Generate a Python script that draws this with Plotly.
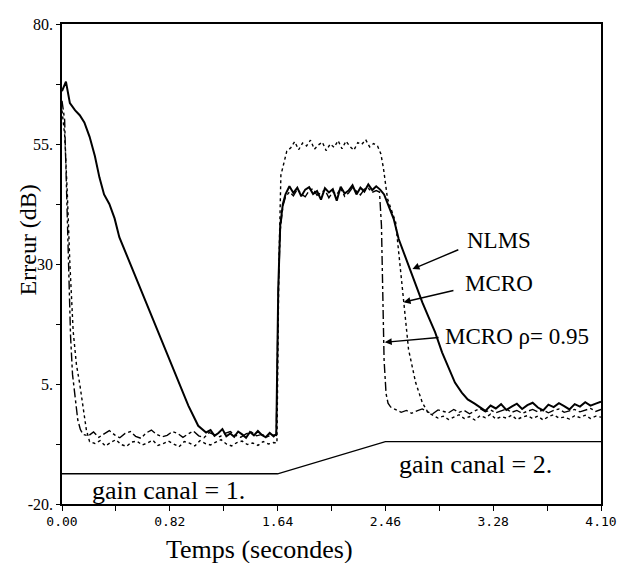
import plotly.graph_objects as go

# ---------------- data ----------------
nlms_t = [0.00,0.03,0.06,0.10,0.135,0.17,0.21,0.25,0.285,0.32,0.36,0.40,0.436,0.511,0.586,0.661,0.736,0.811,0.886,0.961,1.036,1.096,
          1.13,1.16,1.19,1.22,1.25,1.28,1.31,1.34,1.37,1.40,1.43,1.46,1.49,1.52,1.55,1.58,1.61,1.63,
          1.645,1.66,1.68,1.70,
          1.73,1.76,1.79,1.82,1.85,1.88,1.91,1.94,1.97,2.00,2.03,2.06,2.09,2.12,2.15,2.18,2.21,2.24,2.27,2.30,2.33,2.36,2.39,2.42,
          2.45,2.486,2.523,2.561,2.598,2.636,2.688,2.741,2.786,2.838,2.891,2.936,2.989,3.041,3.086,3.139,
          3.18,3.22,3.26,3.30,3.34,3.38,3.42,3.46,3.50,3.54,3.58,3.62,3.66,3.70,3.74,3.78,3.82,3.86,3.90,3.94,3.98,4.02,4.06,4.10]
nlms_y = [66.0,68.0,63.5,62.0,61.0,59.5,56.5,52.5,48.0,44.5,42.5,39.5,35.6,30.6,25.6,20.6,15.6,10.5,5.5,0.5,-3.7,-5.1,
          -4.6,-5.8,-5.2,-4.4,-5.9,-5.3,-6.0,-4.9,-5.5,-6.2,-5.0,-5.7,-4.8,-5.6,-6.1,-5.2,-5.9,-5.4,
          25.0,38.0,42.5,44.5,
          46.2,44.8,45.9,44.1,45.5,46.0,44.6,45.2,43.4,45.8,44.9,45.6,43.2,46.1,44.7,45.3,46.4,44.5,45.9,45.1,46.6,45.4,46.2,45.5,
          44.5,42.0,39.4,35.2,32.5,29.6,26.2,22.0,19.1,15.8,11.6,8.7,5.3,3.2,1.8,0.9,
          0.2,-0.6,0.5,-0.1,0.8,-0.4,0.3,0.9,-0.2,0.6,1.1,0.1,-0.5,0.7,0.2,1.0,0.4,-0.3,0.8,0.3,1.2,0.5,0.9,1.3]

mcro_t = [0.00,0.02,0.04,0.06,0.085,0.11,0.135,0.16,0.185,0.21,
          0.25,0.29,0.33,0.37,0.41,0.45,0.49,0.53,0.57,0.61,0.65,0.69,0.73,0.77,0.81,0.85,0.89,0.93,0.97,1.01,
          1.05,1.09,1.13,1.17,1.21,1.25,1.29,1.33,1.37,1.41,1.45,1.49,1.53,1.57,1.61,
          1.635,1.65,1.665,1.69,1.71,
          1.74,1.77,1.80,1.83,1.86,1.89,1.92,1.95,1.98,2.01,2.04,2.07,2.10,2.13,2.16,2.19,2.22,2.25,2.28,2.31,2.34,2.37,
          2.40,2.425,2.445,2.476,2.538,2.576,2.60,2.636,2.69,2.741,2.786,
          2.82,2.86,2.90,2.94,2.98,3.02,3.06,3.10,3.14,3.18,3.22,3.26,3.30,3.34,3.38,3.42,3.46,3.50,3.54,3.58,
          3.62,3.66,3.70,3.74,3.78,3.82,3.86,3.90,3.94,3.98,4.02,4.06,4.10]
mcro_y = [62.0,57.0,45.0,30.0,16.0,9.0,5.0,0.0,-4.5,-7.0,
          -7.4,-6.8,-7.9,-7.2,-6.6,-7.6,-8.0,-7.1,-6.9,-7.7,-7.3,-6.7,-7.8,-7.4,-6.9,-7.5,-8.1,-7.0,-7.3,-7.9,
          -6.8,-7.4,-7.7,-7.1,-6.6,-7.5,-7.9,-7.2,-6.9,-7.6,-7.3,-7.8,-7.0,-7.5,-7.2,
          -7.3,30.0,48.5,51.0,53.5,
          54.2,55.5,53.8,55.2,54.6,55.8,53.9,54.8,55.4,53.6,55.0,54.3,55.7,54.0,55.6,54.5,53.7,55.3,54.9,55.9,54.4,55.1,
          54.6,53.0,50.0,43.6,38.7,29.0,22.0,12.2,5.3,1.1,-1.0,
          -1.5,-2.1,-1.7,-2.4,-1.9,-1.4,-2.2,-1.8,-2.5,-1.6,-2.0,-1.3,-2.3,-1.8,-2.1,-1.5,-2.4,-1.9,-1.6,-2.2,
          -1.7,-2.5,-1.8,-1.4,-2.1,-1.9,-2.3,-1.6,-2.0,-1.5,-2.2,-1.7,-1.9]

rho_t = [0.00,0.02,0.035,0.05,0.065,0.08,0.10,0.12,0.14,0.16,
         0.20,0.24,0.28,0.32,0.36,0.40,0.44,0.48,0.52,0.56,0.60,0.64,0.68,0.72,0.76,0.80,0.84,0.88,0.92,0.96,
         1.00,1.04,1.08,1.12,1.16,1.20,1.24,1.28,1.32,1.36,1.40,1.44,1.48,1.52,1.56,1.60,
         1.63,1.645,1.66,1.68,1.70,
         1.73,1.76,1.79,1.82,1.85,1.88,1.91,1.94,1.97,2.00,2.03,2.06,2.09,2.12,2.15,2.18,2.21,2.24,2.27,2.30,2.33,2.36,2.39,
         2.415,2.43,2.44,2.45,2.465,2.48,2.50,
         2.54,2.58,2.62,2.66,2.70,2.74,2.78,2.82,2.86,2.90,2.94,2.98,3.02,3.06,3.10,3.14,3.18,3.22,3.26,3.30,
         3.34,3.38,3.42,3.46,3.50,3.54,3.58,3.62,3.66,3.70,3.74,3.78,3.82,3.86,3.90,3.94,3.98,4.02,4.06,4.10]
rho_y = [64.0,60.0,45.0,30.0,15.0,7.0,1.5,-2.5,-4.5,-5.5,
         -5.8,-5.0,-6.1,-5.4,-4.7,-5.6,-6.2,-5.3,-4.9,-5.9,-6.3,-5.2,-4.6,-5.5,-6.0,-5.7,-4.9,-5.3,-6.1,-5.4,
         -4.8,-5.8,-6.2,-5.1,-5.5,-6.0,-5.3,-4.9,-5.7,-6.1,-5.4,-5.0,-5.8,-5.5,-6.0,-5.6,
         -5.7,24.0,37.0,42.0,44.0,
         45.0,44.2,45.6,44.6,44.0,45.3,45.7,44.3,44.9,45.4,43.8,45.0,44.5,45.7,44.1,44.8,45.9,45.2,44.4,45.6,45.8,44.9,45.3,
         45.0,38.0,24.0,10.0,3.0,1.0,0.2,
         -0.3,-0.9,-0.5,-1.1,-0.6,-0.2,-0.8,-1.2,-0.4,-0.7,-1.0,-0.3,-0.9,-0.5,-1.2,-0.6,-0.1,-0.8,-0.4,-1.0,
         -0.6,-0.2,-0.9,-0.5,-1.1,-0.7,-0.3,-0.8,-0.4,-1.0,-0.5,-0.2,-0.9,-0.6,-0.3,-0.8,-0.4,-0.1,-0.7,-0.3]

gain_t = [0.00, 1.64, 2.46, 4.10]
gain_y = [-13.7, -13.7, -7.0, -7.0]

x_tickvals = [0.00, 0.82, 1.64, 2.46, 3.28, 4.10]
x_ticktext = ["0.00", "0.82", "1.64", "2.46", "3.28", "4.10"]
x_minor = [0.41, 1.23, 2.05, 2.87, 3.69]
y_tickvals = [80, 55, 30, 5, -20]
y_ticktext = ["80.", "55.", "30", "5.", "-20."]
y_minor = [67.5, 42.5, 17.5, -7.5]

assert len(nlms_t) == len(nlms_y), (len(nlms_t), len(nlms_y))
assert len(mcro_t) == len(mcro_y), (len(mcro_t), len(mcro_y))
assert len(rho_t) == len(rho_y), (len(rho_t), len(rho_y))

SERIF = "Liberation Serif, Times New Roman, serif"
MONO = "DejaVu Sans Mono, monospace"

fig = go.Figure()
fig.add_trace(go.Scatter(x=gain_t, y=gain_y, mode="lines", line=dict(color="black", width=1.3), name="gain"))
fig.add_trace(go.Scatter(x=mcro_t, y=mcro_y, mode="lines", line=dict(color="black", width=1.4, dash="dot"), name="MCRO"))
fig.add_trace(go.Scatter(x=rho_t, y=rho_y, mode="lines", line=dict(color="black", width=1.4, dash="dashdot"), name="MCRO rho=0.95"))
fig.add_trace(go.Scatter(x=nlms_t, y=nlms_y, mode="lines", line=dict(color="black", width=2.0), name="NLMS"))

LBL = dict(family=SERIF, size=23, color="black")
GAIN = dict(family=SERIF, size=26, color="black")
annotations = [
    dict(x=3.064, y=35.0, text="NLMS", showarrow=False, xref="x", yref="y", xanchor="left", font=LBL),
    dict(x=3.049, y=26.0, text="MCRO", showarrow=False, xref="x", yref="y", xanchor="left", font=LBL),
    dict(x=2.899, y=14.9, text="MCRO ρ= 0.95", showarrow=False, xref="x", yref="y", xanchor="left", font=LBL),
    dict(x=2.545, y=-11.8, text="gain canal = 2.", showarrow=False, xref="x", yref="y", xanchor="left", font=GAIN),
    dict(x=0.21, y=-17.2, text="gain canal = 1.", showarrow=False, xref="x", yref="y", xanchor="left", font=GAIN),
    # arrows
    dict(x=2.666, y=28.95, ax=3.026, ay=33.1, xref="x", yref="y", axref="x", ayref="y", text="", showarrow=True,
         arrowhead=2, arrowsize=1, arrowwidth=1.4, arrowcolor="black"),
    dict(x=2.598, y=22.05, ax=2.989, ay=24.56, xref="x", yref="y", axref="x", ayref="y", text="", showarrow=True,
         arrowhead=2, arrowsize=1, arrowwidth=1.4, arrowcolor="black"),
    dict(x=2.455, y=13.7, ax=2.876, ay=14.7, xref="x", yref="y", axref="x", ayref="y", text="", showarrow=True,
         arrowhead=2, arrowsize=1, arrowwidth=1.4, arrowcolor="black"),
    # axis titles
    dict(x=-0.0623, y=0.55, xref="paper", yref="paper", xanchor="center", yanchor="middle",
         text="Erreur (dB)", textangle=-90, showarrow=False,
         font=dict(family=SERIF, size=24, color="black")),
    dict(x=0.366, y=-0.094, xref="paper", yref="paper", xanchor="center", yanchor="middle",
         text="Temps (secondes)", showarrow=False,
         font=dict(family=SERIF, size=26, color="black")),
]

fig.update_layout(
    width=629, height=563,
    margin=dict(l=62, r=21, t=24, b=59),
    paper_bgcolor="white", plot_bgcolor="white",
    showlegend=False,
    annotations=annotations,
    xaxis=dict(range=[0, 4.10], showline=True, linecolor="black", linewidth=1.5, mirror=True,
               showgrid=False, zeroline=False, ticks="outside", ticklen=5, tickcolor="black",
               tickvals=x_tickvals, ticktext=x_ticktext,
               tickfont=dict(family=MONO, size=13, color="black"),
               minor=dict(tickmode="array", tickvals=x_minor, ticks="outside", ticklen=5, tickcolor="black")),
    yaxis=dict(range=[-20, 80], showline=True, linecolor="black", linewidth=1.5, mirror=True,
               showgrid=False, zeroline=False, ticks="outside", ticklen=4, tickcolor="black",
               tickvals=y_tickvals, ticktext=y_ticktext,
               tickfont=dict(family=SERIF, size=16, color="black"),
               minor=dict(tickmode="array", tickvals=y_minor, ticks="outside", ticklen=4, tickcolor="black")),
)

fig.write_html("out.html")
